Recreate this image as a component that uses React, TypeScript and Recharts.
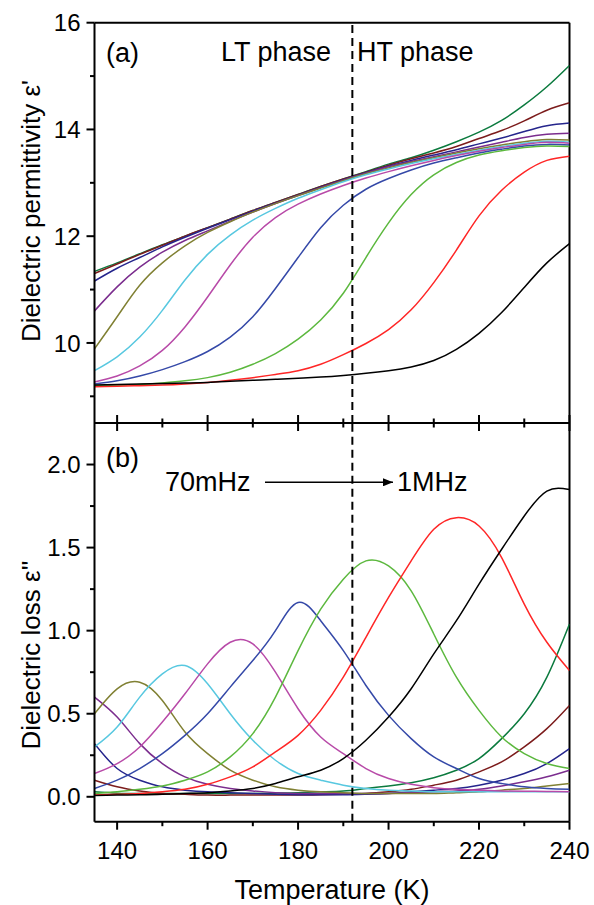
import React from 'react';
import { LineChart, Line, XAxis, YAxis, ReferenceLine } from 'recharts';

const FONT = '"Liberation Sans", Arial, Helvetica, sans-serif';

// temperature grid (K)
const temperature = [135, 140, 145, 150, 155, 160, 165, 170, 175, 180, 185, 190, 195, 200, 205, 210, 215, 220, 225, 230, 235, 240];

// frequencies from 70 mHz (first) to 1 MHz (last)
const freqColors = ['#0b7a3e', '#7c1c1c', '#25258c', '#7b2d8e', '#808033', '#58c8e0', '#b84aa8', '#3549a8', '#5cb83e', '#ff2626', '#000000'];

// (a) dielectric permittivity ε'
const perm1 = [11.34, 11.5, 11.67, 11.84, 12.0, 12.16, 12.32, 12.48, 12.63, 12.78, 12.93, 13.07, 13.21, 13.35, 13.47, 13.61, 13.77, 13.95, 14.17, 14.46, 14.8, 15.2];
const perm2 = [11.3, 11.48, 11.66, 11.83, 12.0, 12.16, 12.32, 12.48, 12.63, 12.78, 12.93, 13.07, 13.2, 13.33, 13.45, 13.56, 13.68, 13.83, 13.98, 14.16, 14.36, 14.5];
const perm3 = [11.16, 11.4, 11.6, 11.8, 11.98, 12.15, 12.31, 12.47, 12.62, 12.77, 12.92, 13.06, 13.19, 13.31, 13.42, 13.52, 13.62, 13.73, 13.84, 13.96, 14.07, 14.12];
const perm4 = [10.6, 11.05, 11.42, 11.7, 11.92, 12.1, 12.28, 12.45, 12.61, 12.76, 12.91, 13.05, 13.18, 13.3, 13.4, 13.49, 13.58, 13.67, 13.76, 13.85, 13.91, 13.93];
const perm5 = [9.89, 10.49, 11.08, 11.5, 11.82, 12.07, 12.27, 12.45, 12.61, 12.76, 12.9, 13.04, 13.17, 13.28, 13.38, 13.47, 13.56, 13.64, 13.71, 13.77, 13.81, 13.8];
const perm6 = [9.48, 9.74, 10.11, 10.61, 11.18, 11.66, 12.02, 12.3, 12.52, 12.71, 12.87, 13.02, 13.15, 13.26, 13.36, 13.45, 13.53, 13.61, 13.68, 13.74, 13.78, 13.76];
const perm7 = [9.27, 9.38, 9.57, 9.86, 10.3, 10.86, 11.46, 11.98, 12.35, 12.6, 12.79, 12.95, 13.09, 13.21, 13.32, 13.42, 13.51, 13.59, 13.66, 13.72, 13.76, 13.74];
const perm8 = [9.23, 9.29, 9.38, 9.5, 9.65, 9.84, 10.11, 10.49, 11.02, 11.6, 12.16, 12.58, 12.88, 13.08, 13.24, 13.37, 13.47, 13.56, 13.63, 13.69, 13.72, 13.71];
const perm9 = [9.2, 9.21, 9.22, 9.25, 9.29, 9.35, 9.45, 9.6, 9.8, 10.07, 10.43, 10.93, 11.6, 12.25, 12.78, 13.15, 13.38, 13.52, 13.6, 13.66, 13.69, 13.68];
const perm10 = [9.18, 9.19, 9.2, 9.21, 9.23, 9.26, 9.3, 9.35, 9.41, 9.48, 9.6, 9.78, 9.99, 10.25, 10.62, 11.13, 11.74, 12.38, 12.86, 13.2, 13.42, 13.5];
const perm11 = [9.21, 9.22, 9.23, 9.24, 9.25, 9.26, 9.28, 9.3, 9.32, 9.34, 9.36, 9.39, 9.43, 9.48, 9.55, 9.67, 9.88, 10.18, 10.57, 11.04, 11.5, 11.86];

// (b) dielectric loss ε''
const loss1 = [0.03, 0.022, 0.02, 0.02, 0.02, 0.02, 0.02, 0.02, 0.022, 0.025, 0.03, 0.035, 0.05, 0.065, 0.085, 0.115, 0.16, 0.23, 0.35, 0.5, 0.72, 1.04];
const loss2 = [0.1, 0.06, 0.035, 0.02, 0.015, 0.01, 0.01, 0.01, 0.01, 0.01, 0.012, 0.015, 0.02, 0.03, 0.045, 0.07, 0.1, 0.15, 0.21, 0.3, 0.41, 0.55];
const loss3 = [0.32, 0.17, 0.1, 0.06, 0.04, 0.03, 0.025, 0.02, 0.015, 0.012, 0.012, 0.012, 0.015, 0.02, 0.03, 0.04, 0.05, 0.07, 0.1, 0.14, 0.2, 0.29];
const loss4 = [0.6, 0.48, 0.32, 0.2, 0.12, 0.075, 0.05, 0.035, 0.025, 0.02, 0.02, 0.02, 0.02, 0.02, 0.025, 0.03, 0.035, 0.045, 0.065, 0.09, 0.12, 0.16];
const loss5 = [0.5, 0.65, 0.69, 0.58, 0.39, 0.26, 0.16, 0.1, 0.06, 0.04, 0.03, 0.025, 0.02, 0.02, 0.02, 0.02, 0.025, 0.03, 0.04, 0.05, 0.065, 0.08];
const loss6 = [0.3, 0.42, 0.6, 0.74, 0.79, 0.68, 0.5, 0.34, 0.22, 0.14, 0.1, 0.07, 0.05, 0.04, 0.035, 0.03, 0.03, 0.03, 0.03, 0.03, 0.03, 0.03];
const loss7 = [0.14, 0.2, 0.3, 0.45, 0.62, 0.8, 0.93, 0.92, 0.75, 0.53, 0.36, 0.26, 0.17, 0.11, 0.075, 0.055, 0.045, 0.04, 0.035, 0.033, 0.032, 0.03];
const loss8 = [0.05, 0.1, 0.17, 0.26, 0.37, 0.5, 0.66, 0.82, 1.0, 1.17, 1.06, 0.88, 0.67, 0.49, 0.35, 0.24, 0.17, 0.11, 0.08, 0.06, 0.05, 0.045];
const loss9 = [0.02, 0.03, 0.045, 0.065, 0.1, 0.15, 0.24, 0.38, 0.6, 0.88, 1.13, 1.31, 1.42, 1.39, 1.24, 0.98, 0.72, 0.52, 0.36, 0.26, 0.2, 0.17];
const loss10 = [0.01, 0.015, 0.02, 0.03, 0.045, 0.075, 0.12, 0.18, 0.27, 0.37, 0.52, 0.72, 0.96, 1.2, 1.42, 1.61, 1.68, 1.63, 1.44, 1.16, 0.93, 0.76];
const loss11 = [0.008, 0.01, 0.012, 0.015, 0.02, 0.025, 0.035, 0.05, 0.08, 0.12, 0.16, 0.23, 0.34, 0.48, 0.65, 0.86, 1.06, 1.28, 1.49, 1.69, 1.84, 1.85];

const permSeries = [perm1, perm2, perm3, perm4, perm5, perm6, perm7, perm8, perm9, perm10, perm11];
const lossSeries = [loss1, loss2, loss3, loss4, loss5, loss6, loss7, loss8, loss9, loss10, loss11];

// axis ticks
const xTicks = [140, 150, 160, 170, 180, 190, 200, 210, 220, 230, 240];
const xMajor = [140, 160, 180, 200, 220, 240];
const permTicks = [9, 10, 11, 12, 13, 14, 15, 16];
const permMajor = [10, 12, 14, 16];
const lossTicks = [0, 0.25, 0.5, 0.75, 1, 1.25, 1.5, 1.75, 2];
const lossMajor = [0, 0.5, 1, 1.5, 2];
const transitionT = 192;

const toRows = (series: number[][]) =>
  temperature.map((t, i) => {
    const row: any = { t };
    series.forEach((s, k) => { row[`f${k}`] = s[i]; });
    return row;
  });

const permData = toRows(permSeries);
const lossData = toRows(lossSeries);

const isIn = (list: number[], v: number) => list.some((m) => Math.abs(m - v) < 1e-9);

const leftTick = (majors: number[], digits: number) => (props: any) => {
  const { x, y, payload } = props;
  const major = isIn(majors, payload.value);
  return (
    <g>
      <line x1={x - (major ? 8 : 4.5)} x2={x} y1={y} y2={y} stroke="#000" strokeWidth={2} />
      {major && (
        <text x={x - 14} y={y} dy="0.36em" textAnchor="end" fontSize={24} fontFamily={FONT} fill="#000">
          {payload.value.toFixed(digits)}
        </text>
      )}
    </g>
  );
};

const boundaryTick = (props: any) => {
  const { x, y, payload } = props;
  const h = isIn(xMajor, payload.value) ? 8 : 4.5;
  return <line x1={x} x2={x} y1={y - h} y2={y + h} stroke="#000" strokeWidth={2} />;
};

const bottomTick = (props: any) => {
  const { x, y, payload } = props;
  const major = isIn(xMajor, payload.value);
  return (
    <g>
      <line x1={x} x2={x} y1={y} y2={y + (major ? 8 : 4.5)} stroke="#000" strokeWidth={2} />
      {major && (
        <text x={x} y={y + 37} textAnchor="middle" fontSize={24} fontFamily={FONT} fill="#000">
          {payload.value}
        </text>
      )}
    </g>
  );
};

const axisLine = { stroke: '#000', strokeWidth: 2 };

const renderLines = () =>
  freqColors.map((c, k) => (
    <Line key={k} type="natural" dataKey={`f${k}`} stroke={c} strokeWidth={1.5} dot={false} isAnimationActive={false} />
  ));

export default function App() {
  return (
    <div style={{ position: 'absolute', left: 0, top: 0, width: 594, height: 905, background: '#fff', fontFamily: FONT }}>
      <div style={{ position: 'absolute', left: 0, top: 0 }}>
        <LineChart width={594} height={445} data={permData} margin={{ top: 22.7, right: 24.5, bottom: 0, left: 0 }}>
          <XAxis dataKey="t" type="number" domain={[135, 240]} ticks={xTicks} interval={0} allowDataOverflow
            height={22} tickSize={0} tickMargin={0} tickLine={false} axisLine={axisLine} tick={boundaryTick} />
          <YAxis type="number" domain={[8.5, 16]} ticks={permTicks} interval={0} allowDataOverflow
            width={94.5} tickSize={0} tickMargin={0} tickLine={false} axisLine={axisLine} tick={leftTick(permMajor, 0)} />
          <ReferenceLine y={16} stroke="#000" strokeWidth={2} />
          <ReferenceLine x={240} stroke="#000" strokeWidth={2} />
          {renderLines()}
          <ReferenceLine x={transitionT} stroke="#000" strokeWidth={2} strokeDasharray="8 5" />
        </LineChart>
      </div>
      <div style={{ position: 'absolute', left: 0, top: 400 }}>
        <LineChart width={594} height={505} data={lossData} margin={{ top: 23, right: 24.5, bottom: 0, left: 0 }}>
          <XAxis dataKey="t" type="number" domain={[135, 240]} ticks={xTicks} interval={0} allowDataOverflow
            height={83.3} tickSize={0} tickMargin={0} tickLine={false} axisLine={axisLine} tick={bottomTick} />
          <YAxis type="number" domain={[-0.15, 2.25]} ticks={lossTicks} interval={0} allowDataOverflow
            width={94.5} tickSize={0} tickMargin={0} tickLine={false} axisLine={axisLine} tick={leftTick(lossMajor, 1)} />
          <ReferenceLine x={240} stroke="#000" strokeWidth={2} />
          {renderLines()}
          <ReferenceLine x={transitionT} stroke="#000" strokeWidth={2} strokeDasharray="8 5" />
        </LineChart>
      </div>
      <svg width={594} height={905} style={{ position: 'absolute', left: 0, top: 0, pointerEvents: 'none' }}>
        <defs>
          <marker id="ah" markerWidth="10" markerHeight="8" refX="10" refY="4" orient="auto" markerUnits="userSpaceOnUse">
            <path d="M0,0 L10,4 L0,8 Z" fill="#000" />
          </marker>
        </defs>
        <g fontFamily={FONT} fill="#000">
          <text x={106} y={61.5} fontSize={27}>(a)</text>
          <text x={221} y={60.7} fontSize={27}>LT phase</text>
          <text x={357} y={60.7} fontSize={27}>HT phase</text>
          <text x={106} y={467} fontSize={27}>(b)</text>
          <text x={165} y={491} fontSize={27}>70mHz</text>
          <text x={397} y={491} fontSize={27}>1MHz</text>
          <text x={332} y={899} fontSize={27} textAnchor="middle">Temperature (K)</text>
          <text transform="translate(39.5,211) rotate(-90)" fontSize={26} textAnchor="middle">Dielectric permittivity ε'</text>
          <text transform="translate(39.5,655) rotate(-90)" fontSize={26} textAnchor="middle">Dielectric loss ε''</text>
        </g>
        <line x1={265} y1={482.3} x2={393} y2={482.3} stroke="#000" strokeWidth={1.5} markerEnd="url(#ah)" />
      </svg>
    </div>
  );
}
